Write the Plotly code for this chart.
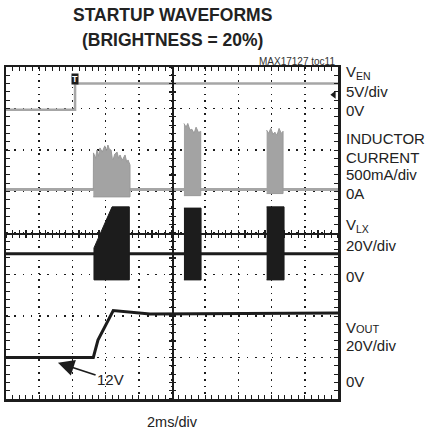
import plotly.graph_objects as go

# Time axis in ms (2 ms/div, 10 div); amplitude in screen divisions (8 div)
VEN_T = [0.0, 4.16, 4.16, 20.0]
VEN_V = [6.97, 6.97, 7.6, 7.6]

IL_BASE_T = [0.0, 20.0]
IL_BASE_V = [5.05, 5.05]
IL_B1_T = [5.26, 5.27, 5.40, 5.48, 5.57, 5.66, 5.80, 5.95, 6.05, 6.14, 6.22, 6.33, 6.40,
           6.45, 6.55, 6.69, 6.78, 6.87, 7.00, 7.17, 7.28, 7.35, 7.47]
IL_B1_TOP = [5.05, 5.93, 5.80, 6.00, 5.85, 6.05, 5.95, 6.10, 5.98, 6.12, 6.02, 6.00, 5.80,
             5.76, 5.90, 5.95, 5.80, 5.88, 5.75, 5.88, 5.70, 5.76, 5.64]
IL_B2_T = [10.72, 10.85, 10.95, 11.08, 11.20, 11.33, 11.45, 11.60, 11.73]
IL_B2_TOP = [6.64, 6.55, 6.64, 6.48, 6.50, 6.40, 6.55, 6.42, 6.45]
IL_B3_T = [15.70, 15.82, 15.95, 16.08, 16.20, 16.32, 16.45, 16.58, 16.69]
IL_B3_TOP = [6.48, 6.40, 6.52, 6.38, 6.43, 6.35, 6.52, 6.40, 6.45]
IL_BOTTOM = [4.87, 4.90, 4.95]

VLX_BASE_T = [0.0, 20.0]
VLX_BASE_V = [3.5, 3.5]
VLX_B1_T = [5.30, 5.30, 6.39, 7.43]
VLX_B1_TOP = [2.87, 3.64, 4.63, 4.63]
VLX_B2_T = [10.72, 11.75]
VLX_B2_TOP = [4.60, 4.60]
VLX_B3_T = [15.70, 16.75]
VLX_B3_TOP = [4.63, 4.63]
VLX_BOTTOM = [2.87, 2.87, 2.87]

VOUT_T = [0.0, 5.26, 5.54, 6.46, 8.67, 20.0]
VOUT_V = [1.0, 1.0, 1.42, 2.13, 2.05, 2.07]

TRIG_T, TRIG_V = 4.16, 7.71
GND_MARK_T, GND_MARK_V = [19.75], [7.33]
NOTE_TIP = (3.13, 0.875)
NOTE_TEXT_POS = (6.3, 0.46)

LABELS = ["V<sub>EN</sub>", "5V/div", "0V", "INDUCTOR", "CURRENT", "500mA/div", "0A",
          "V<sub>LX</sub>", "20V/div", "0V",
          "V<span style='font-size:11px'>OUT</span>", "20V/div", "0V"]
LABEL_Y = [7.86, 7.42, 6.96, 6.27, 5.83, 5.40, 4.96, 4.19, 3.71, 2.94, 1.73, 1.28, 0.43]

GRAY = "#a6a6a6"
BLACK = "#1c1c1c"
FONT = "Liberation Sans, Arial, sans-serif"

fig = go.Figure()

def polygon(ts, tops, bottom):
    xs = list(ts) + [ts[-1], ts[0]]
    ys = list(tops) + [bottom, bottom]
    return xs, ys

# Inductor current
fig.add_trace(go.Scatter(x=IL_BASE_T, y=IL_BASE_V, mode="lines",
                         line=dict(color=GRAY, width=3)))
for ts, tops, bot in [(IL_B1_T, IL_B1_TOP, IL_BOTTOM[0]),
                      (IL_B2_T, IL_B2_TOP, IL_BOTTOM[1]),
                      (IL_B3_T, IL_B3_TOP, IL_BOTTOM[2])]:
    xs, ys = polygon(ts, tops, bot)
    fig.add_trace(go.Scatter(x=xs, y=ys, mode="lines", fill="toself",
                             fillcolor="#a3a3a3", line=dict(color="#999999", width=1)))

# VEN
fig.add_trace(go.Scatter(x=VEN_T, y=VEN_V, mode="lines",
                         line=dict(color=GRAY, width=2.5)))

# VLX
fig.add_trace(go.Scatter(x=VLX_BASE_T, y=VLX_BASE_V, mode="lines",
                         line=dict(color=BLACK, width=3)))
for ts, tops, bot in [(VLX_B1_T, VLX_B1_TOP, VLX_BOTTOM[0]),
                      (VLX_B2_T, VLX_B2_TOP, VLX_BOTTOM[1]),
                      (VLX_B3_T, VLX_B3_TOP, VLX_BOTTOM[2])]:
    xs, ys = polygon(ts, tops, bot)
    fig.add_trace(go.Scatter(x=xs, y=ys, mode="lines", fill="toself",
                             fillcolor=BLACK, line=dict(color=BLACK, width=1)))

# VOUT
fig.add_trace(go.Scatter(x=VOUT_T, y=VOUT_V, mode="lines",
                         line=dict(color=BLACK, width=3)))

# ground marker
fig.add_trace(go.Scatter(x=GND_MARK_T, y=GND_MARK_V, mode="markers",
                         marker=dict(symbol="triangle-left", size=7, color=BLACK)))

# dummy traces to create center crosshair axes
fig.add_trace(go.Scatter(x=[None], y=[None], xaxis="x2", yaxis="y2", mode="none"))
fig.add_trace(go.Scatter(x=[None], y=[None], xaxis="x3", yaxis="y3", mode="none"))

fig.update_traces(showlegend=False, hoverinfo="skip")

grid_common = dict(showticklabels=False, zeroline=False, showline=True, linecolor=BLACK,
                   linewidth=2.5, mirror="allticks", ticks="inside", ticklen=4,
                   tickcolor=BLACK, tickwidth=1, showgrid=True, gridcolor=BLACK, gridwidth=1.5)

fig.update_layout(
    width=429, height=435,
    margin=dict(l=6, r=91, t=67, b=36),
    paper_bgcolor="white", plot_bgcolor="white",
    xaxis=dict(range=[0, 20], dtick=2, griddash="1.5px,5.14px",
               minor=dict(dtick=0.4, ticks="inside", ticklen=4, tickcolor=BLACK, showgrid=False),
               **grid_common),
    yaxis=dict(range=[0, 8], dtick=1, griddash="1.5px,6.8px",
               minor=dict(dtick=0.2, ticks="inside", ticklen=4, tickcolor=BLACK, showgrid=False),
               **grid_common),
    xaxis2=dict(range=[0, 20], overlaying="x", anchor="free", position=0.5, showgrid=False,
                showticklabels=False, zeroline=False, showline=True, linecolor=BLACK, linewidth=1.5,
                ticks="outside", ticklen=3, dtick=0.4, tickcolor=BLACK, tickwidth=1.2),
    yaxis2=dict(range=[0, 8], overlaying="y", anchor="free", position=0.5, showgrid=False,
                showticklabels=False, zeroline=False, showline=True, linecolor=BLACK, linewidth=1.5,
                ticks="outside", ticklen=3, dtick=0.2, tickcolor=BLACK, tickwidth=1.2),
    xaxis3=dict(range=[0, 20], overlaying="x", anchor="free", position=0.5, showgrid=False,
                showticklabels=False, zeroline=False, showline=False,
                ticks="inside", ticklen=3, dtick=0.4, tickcolor=BLACK, tickwidth=1.2),
    yaxis3=dict(range=[0, 8], overlaying="y", anchor="free", position=0.5, showgrid=False,
                showticklabels=False, zeroline=False, showline=False,
                ticks="inside", ticklen=3, dtick=0.2, tickcolor=BLACK, tickwidth=1.2),
)

ann = []
ann.append(dict(text="<b>STARTUP WAVEFORMS</b>", x=0.5, y=(399 - 15) / 332, xref="paper", yref="paper",
                showarrow=False, xanchor="center", yanchor="middle",
                font=dict(family=FONT, size=17.5, color="#222")))
ann.append(dict(text="<b>(BRIGHTNESS = 20%)</b>", x=0.5, y=(399 - 40) / 332, xref="paper", yref="paper",
                showarrow=False, xanchor="center", yanchor="middle",
                font=dict(family=FONT, size=17.5, color="#222")))
ann.append(dict(text="MAX17127 toc11", x=(337 - 6) / 332, y=(399 - 61) / 332, xref="paper", yref="paper",
                showarrow=False, xanchor="right", yanchor="middle",
                font=dict(family=FONT, size=10, color="#333")))
ann.append(dict(text="2ms/div", x=0.5, y=(399 - 422) / 332, xref="paper", yref="paper",
                showarrow=False, xanchor="center", yanchor="middle",
                font=dict(family=FONT, size=14.5, color="#222")))
for t, yv in zip(LABELS, LABEL_Y):
    ann.append(dict(text=t, x=(344 - 6) / 332, y=yv, xref="paper", yref="y",
                    showarrow=False, xanchor="left", yanchor="middle",
                    font=dict(family=FONT, size=15, color="#222")))
# trigger marker
ann.append(dict(text="<b>T</b>", x=TRIG_T, y=TRIG_V, xref="x", yref="y", showarrow=False,
                xanchor="center", yanchor="middle", bgcolor=BLACK, borderpad=0,
                font=dict(family=FONT, size=9, color="white")))
# 12V note
ann.append(dict(text="12V", x=NOTE_TIP[0], y=NOTE_TIP[1], xref="x", yref="y",
                ax=NOTE_TEXT_POS[0], ay=NOTE_TEXT_POS[1], axref="x", ayref="y",
                showarrow=True, arrowhead=2, arrowsize=1.8, arrowwidth=1.8, arrowcolor=BLACK,
                font=dict(family=FONT, size=15, color="#222"), bgcolor="rgba(0,0,0,0)"))
fig.update_layout(annotations=ann)

fig.write_html("out.html", config={"displayModeBar": False, "staticPlot": True},
               post_script="document.body.style.margin='0';")
